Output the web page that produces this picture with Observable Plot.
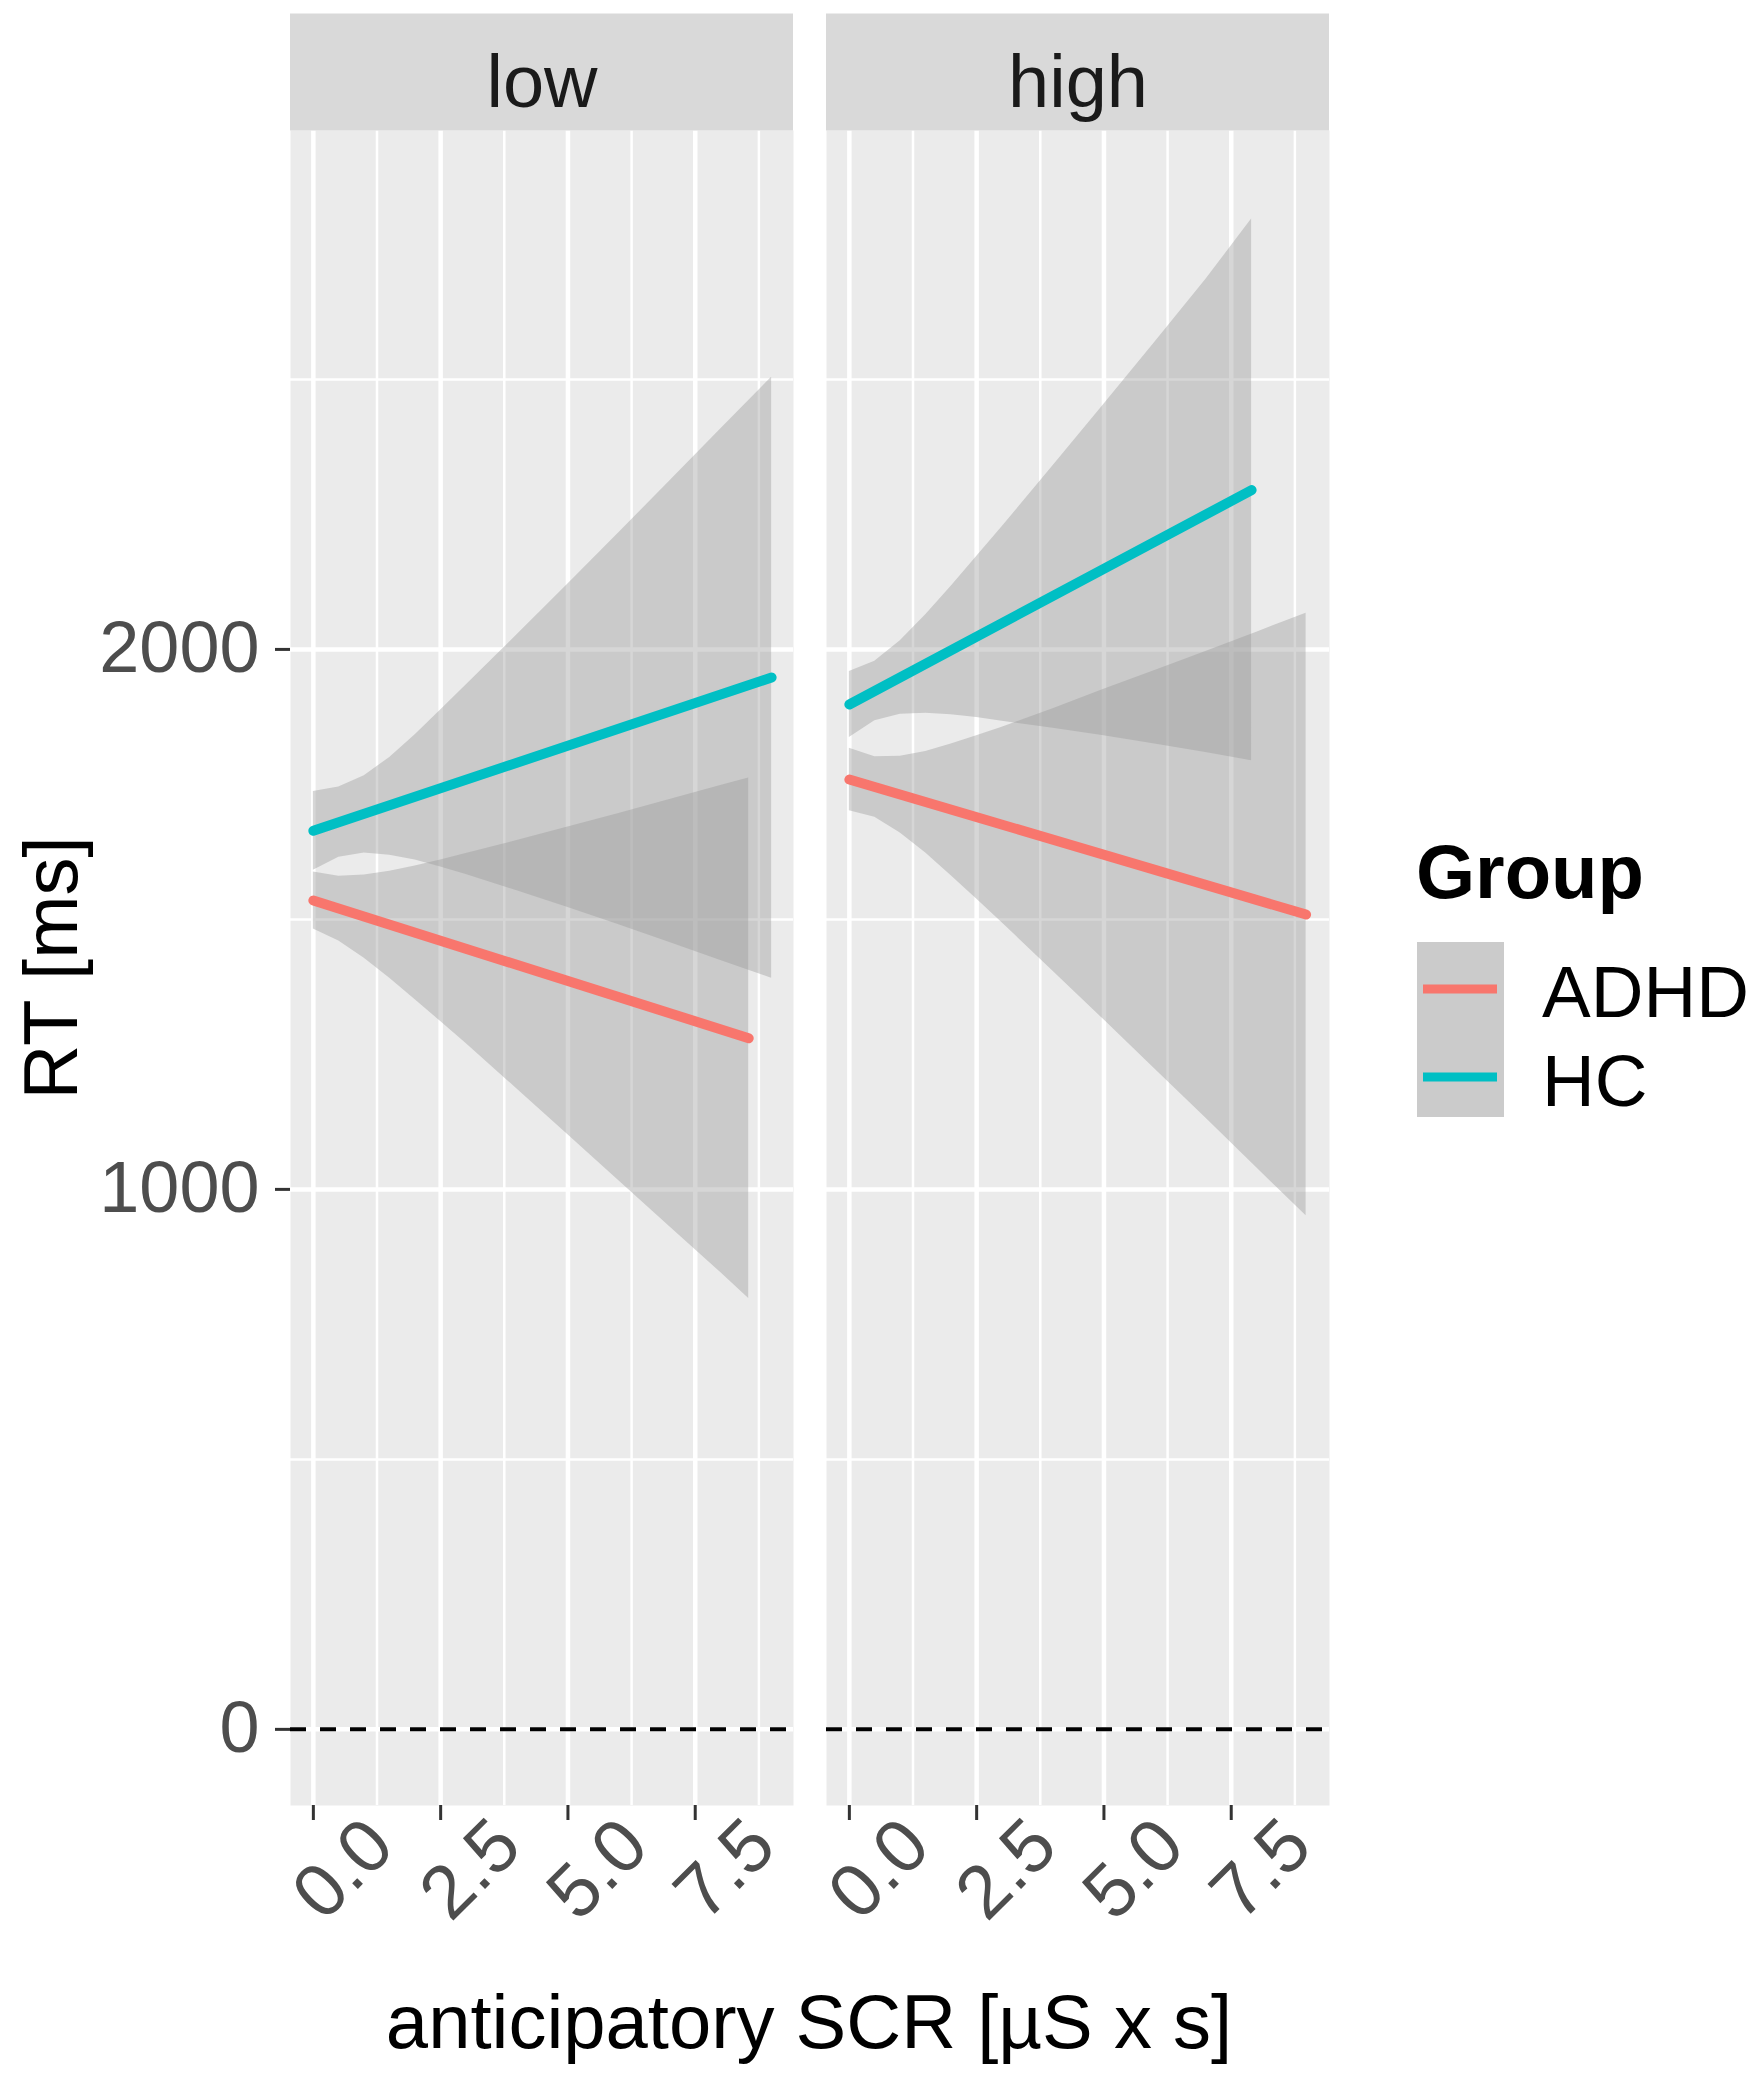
<!DOCTYPE html>
<html>
<head>
<meta charset="utf-8">
<script src="https://cdn.jsdelivr.net/npm/d3@7"></script>
<script src="https://cdn.jsdelivr.net/npm/@observablehq/plot@0.6"></script>
<style>
  html, body { margin: 0; padding: 0; background: white; }
  #chart svg { display: block; max-width: none; }
</style>
</head>
<body>
<div id="chart"></div>
<script>
// ---------- data ----------
const panels = ["low", "high"];
const groups = ["ADHD", "HC"];
const groupColors = ["#F8766D", "#00BFC4"];

const xTicks = [0, 2.5, 5, 7.5];
const xTickLabels = ["0.0", "2.5", "5.0", "7.5"];
const xMinor = [1.25, 3.75, 6.25, 8.75];
const yTicks = [0, 1000, 2000];
const yTickLabels = ["0", "1000", "2000"];
const yMinor = [500, 1500, 2500];

// fitted regression lines: [anticipatory SCR, RT]
const fitLowADHD  = [[0, 1535], [8.55, 1280]];
const fitLowHC    = [[0, 1664], [9.0, 1948]];
const fitHighADHD = [[0, 1759], [8.97, 1509]];
const fitHighHC   = [[0, 1898], [7.9, 2295]];

// confidence bands: [anticipatory SCR, lower RT, upper RT]
const ciLowADHD = [
  [0, 1482, 1588], [0.5, 1460, 1580], [1, 1428, 1582], [1.5, 1391, 1589],
  [2, 1351, 1599], [2.5, 1311, 1610], [3, 1270, 1622], [4, 1186, 1646],
  [5, 1101, 1671], [6, 1016, 1696], [7, 931, 1722], [8, 846, 1748],
  [8.55, 798, 1762]
];
const ciLowHC = [
  [0, 1591, 1737], [0.5, 1615, 1745], [1, 1623, 1766], [1.5, 1619, 1800],
  [2, 1610, 1842], [2.5, 1597, 1888], [3, 1583, 1934], [4, 1553, 2027],
  [5, 1522, 2121], [6, 1490, 2216], [7, 1457, 2312], [8, 1424, 2408],
  [9.0, 1391, 2504]
];
const ciHighADHD = [
  [0, 1701, 1817], [0.5, 1689, 1801], [1, 1660, 1802], [1.5, 1623, 1811],
  [2, 1581, 1825], [2.5, 1538, 1840], [3, 1494, 1856], [4, 1404, 1890],
  [5, 1314, 1926], [6, 1223, 1961], [7, 1132, 1996], [8, 1040, 2032],
  [8.97, 951, 2067]
];
const ciHighHC = [
  [0, 1837, 1959], [0.5, 1868, 1978], [1, 1880, 2016], [1.5, 1882, 2064],
  [2, 1879, 2117], [2.5, 1874, 2172], [3, 1867, 2227], [4, 1854, 2340],
  [5, 1840, 2454], [6, 1825, 2569], [7, 1809, 2685], [7.9, 1794, 2797]
];

const yDomain = [-141, 2961];
const xDomain = [-0.449, 9.43];

// ---------- tables for Plot ----------
const fits = [
  ["low", "ADHD", fitLowADHD], ["low", "HC", fitLowHC],
  ["high", "ADHD", fitHighADHD], ["high", "HC", fitHighHC]
].flatMap(([panel, group, pts]) => pts.map(([x, y]) => ({panel, group, x, y})));

const bands = [
  ["low", "ADHD", ciLowADHD], ["low", "HC", ciLowHC],
  ["high", "ADHD", ciHighADHD], ["high", "HC", ciHighHC]
].flatMap(([panel, group, pts]) => pts.map(([x, lo, hi]) => ({panel, group, x, lo, hi})));

const font = "'Liberation Sans', Arial, Helvetica, sans-serif";

const chart = Plot.plot({
  width: 1762,
  height: 2081,
  marginLeft: 290,
  marginRight: 433,
  marginTop: 130,
  marginBottom: 276,
  style: {fontFamily: font, background: "white", maxWidth: "none"},
  fx: {domain: panels, paddingInner: 0.0616, paddingOuter: 0, axis: null, label: null},
  x: {domain: xDomain, label: null},
  y: {domain: yDomain, label: null},
  color: {domain: groups, range: groupColors},
  marks: [
    Plot.frame({fill: "#EBEBEB", stroke: "none"}),
    Plot.gridX(xMinor, {stroke: "white", strokeOpacity: 1, strokeWidth: 2.5}),
    Plot.gridY(yMinor, {stroke: "white", strokeOpacity: 1, strokeWidth: 2.5}),
    Plot.gridX(xTicks, {stroke: "white", strokeOpacity: 1, strokeWidth: 4.5}),
    Plot.gridY(yTicks, {stroke: "white", strokeOpacity: 1, strokeWidth: 4.5}),
    Plot.areaY(bands, {fx: "panel", x: "x", y1: "lo", y2: "hi", z: "group", fill: "#999999", fillOpacity: 0.4}),
    Plot.ruleY([0], {stroke: "black", strokeWidth: 4, strokeDasharray: "16,14"}),
    Plot.line(fits, {fx: "panel", x: "x", y: "y", z: "group", stroke: "group", strokeWidth: 10}),
    // facet strips
    Plot.ruleY([yDomain[1]], {stroke: "#D9D9D9", strokeWidth: 117, dy: -58.5}),
    Plot.text(panels, {fx: d => d, text: d => d, frameAnchor: "top", dy: -76, fontSize: 74, fill: "#1A1A1A"}),
    // axes
    Plot.axisY(yTicks, {tickSize: 15, tickPadding: 16, fontSize: 72, fill: "#4D4D4D", stroke: "#333333", strokeWidth: 3,
      tickFormat: d => yTickLabels[yTicks.indexOf(d)], label: null}),
    Plot.axisX(xTicks, {tickSize: 15, stroke: "#333333", strokeWidth: 3, fill: "none", label: null}),
    Plot.text(xTicks, {x: d => d, text: (d, i) => xTickLabels[i], frameAnchor: "bottom", dx: 47, dy: 81,
      rotate: -45, fontSize: 75, fill: "#4D4D4D"})
  ]
});

document.getElementById("chart").appendChild(chart);

// ---------- titles and legend ----------
const svg = d3.select(chart);
svg.append("text")
  .attr("transform", "translate(50,968) rotate(-90)")
  .attr("text-anchor", "middle").attr("dominant-baseline", "central")
  .style("font-family", font).style("font-size", "76px").attr("fill", "black")
  .text("RT [ms]");
svg.append("text")
  .attr("x", 809).attr("y", 2048)
  .attr("text-anchor", "middle")
  .style("font-family", font).style("font-size", "76px").attr("fill", "black")
  .text("anticipatory SCR [µS x s]");

const lg = svg.append("g").style("font-family", font).attr("text-anchor", "start");
lg.append("text").attr("x", 1416).attr("y", 898).attr("text-anchor", "start")
  .style("font-size", "76px").style("font-weight", "bold").attr("fill", "black").text("Group");
lg.append("rect").attr("x", 1417).attr("y", 942).attr("width", 87).attr("height", 175).attr("fill", "#CBCBCB");
const keyY = [989, 1077];
const labelY = [1017, 1106];
groups.forEach((g, i) => {
  lg.append("line").attr("x1", 1423).attr("x2", 1497).attr("y1", keyY[i]).attr("y2", keyY[i])
    .attr("stroke", groupColors[i]).attr("stroke-width", 9);
  lg.append("text").attr("x", 1542).attr("y", labelY[i]).attr("text-anchor", "start")
    .style("font-size", "73px").attr("fill", "black").text(g);
});
</script>
</body>
</html>
